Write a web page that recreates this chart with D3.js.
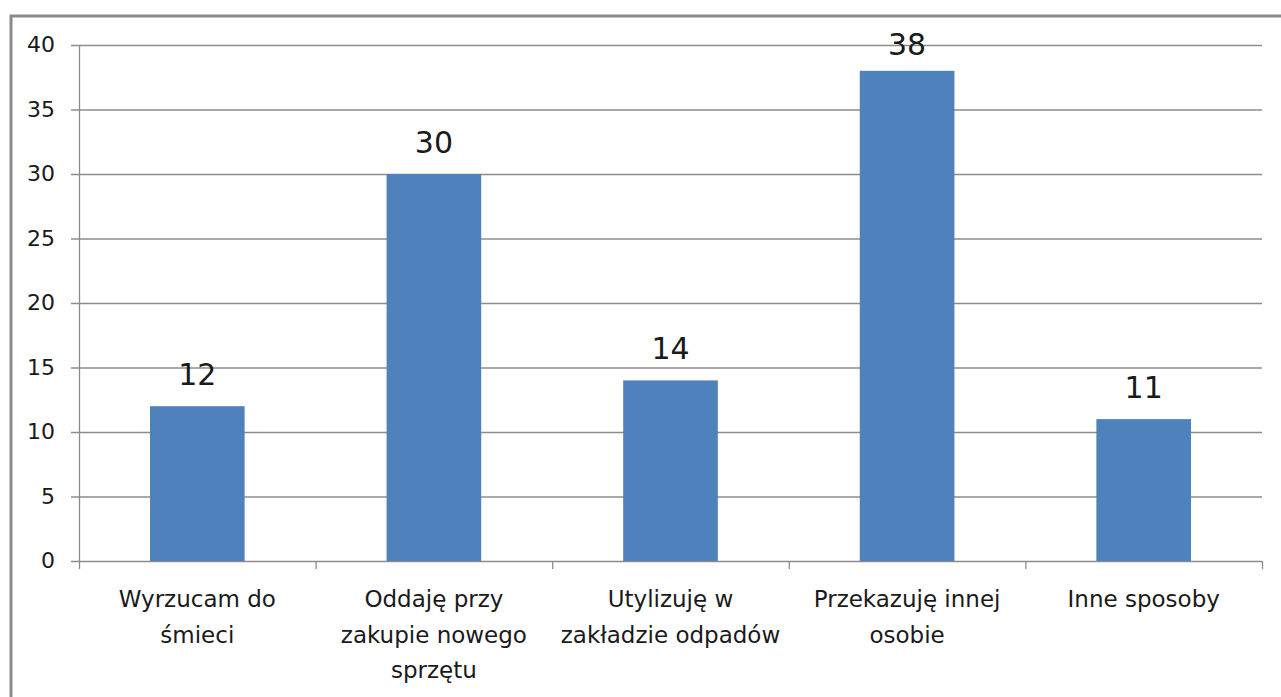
<!DOCTYPE html>
<html>
<head>
<meta charset="utf-8">
<script src="https://d3js.org/d3.v7.min.js"></script>
<style>
  body { margin: 0; background: #fff; }
  text { font-family: "DejaVu Sans", sans-serif; fill: #1a1a1a; }
</style>
</head>
<body>
<script>
// chart data
const categories = [
  "Wyrzucam do\nśmieci",
  "Oddaję przy\nzakupie nowego\nsprzętu",
  "Utylizuję w\nzakładzie odpadów",
  "Przekazuję innej\nosobie",
  "Inne sposoby"
];
const values = [12, 30, 14, 38, 11];
const yTicks = [0, 5, 10, 15, 20, 25, 30, 35, 40];

const width = 1281, height = 697;
const plot = { left: 79, right: 1262, top: 45, bottom: 561 };

const svg = d3.select('body')
  .append('svg')
  .attr('width', width)
  .attr('height', height);

svg.append('rect')
  .attr('width', width)
  .attr('height', height)
  .attr('fill', '#fff');

// outer frame (only left and top edges visible)
svg.append('path')
  .attr('d', `M11,${height} V16 H${width}`)
  .attr('fill', 'none')
  .attr('stroke', '#8a8a8a')
  .attr('stroke-width', 3);

const x = d3.scaleBand()
  .domain(categories)
  .range([plot.left, plot.right])
  .paddingInner(0.6)
  .paddingOuter(0.3);

const xTicks = d3.scaleBand().domain(categories).range([plot.left, plot.right]);

const y = d3.scaleLinear()
  .domain([0, 40])
  .range([plot.bottom, plot.top]);

// gridlines
svg.append('g')
  .selectAll('line')
  .data(yTicks)
  .join('line')
  .attr('x1', plot.left - 8)
  .attr('x2', plot.right)
  .attr('y1', d => y(d) + 0.5)
  .attr('y2', d => y(d) + 0.5)
  .attr('stroke', '#8c8c8c')
  .attr('stroke-width', 1.3);

// y axis line
svg.append('line')
  .attr('x1', plot.left + 0.5).attr('x2', plot.left + 0.5)
  .attr('y1', plot.top).attr('y2', plot.bottom + 8)
  .attr('stroke', '#8c8c8c')
  .attr('stroke-width', 1.3);

// y tick labels
svg.append('g')
  .selectAll('text')
  .data(yTicks)
  .join('text')
  .attr('x', 55)
  .attr('y', d => y(d) + 7)
  .attr('text-anchor', 'end')
  .attr('font-size', 22)
  .text(d => d);

// category tick marks
svg.append('g')
  .selectAll('line')
  .data(categories)
  .join('line')
  .attr('x1', d => xTicks(d) + xTicks.bandwidth() + 0.5)
  .attr('x2', d => xTicks(d) + xTicks.bandwidth() + 0.5)
  .attr('y1', plot.bottom)
  .attr('y2', plot.bottom + 8)
  .attr('stroke', '#8c8c8c')
  .attr('stroke-width', 1.3);

// bars
svg.append('g')
  .selectAll('rect')
  .data(values)
  .join('rect')
  .attr('x', (d, i) => x(categories[i]))
  .attr('y', d => y(d))
  .attr('width', x.bandwidth())
  .attr('height', d => y(0) - y(d))
  .attr('fill', '#4f81bd');

// value labels (kept inside the chart area near the top)
svg.append('g')
  .selectAll('text')
  .data(values)
  .join('text')
  .attr('x', (d, i) => x(categories[i]) + x.bandwidth() / 2)
  .attr('y', d => Math.max(y(d) - 21, 55))
  .attr('text-anchor', 'middle')
  .attr('font-size', 30)
  .text(d => d);

// category labels
const labels = svg.append('g')
  .selectAll('text')
  .data(categories)
  .join('text')
  .attr('x', d => xTicks(d) + xTicks.bandwidth() / 2)
  .attr('y', 607)
  .attr('text-anchor', 'middle')
  .attr('font-size', 23);

labels.selectAll('tspan')
  .data(d => d.split('\n').map(t => ({ t, d })))
  .join('tspan')
  .attr('x', p => xTicks(p.d) + xTicks.bandwidth() / 2)
  .attr('dy', (p, i) => i === 0 ? 0 : 35.5)
  .text(p => p.t);
</script>
</body>
</html>
